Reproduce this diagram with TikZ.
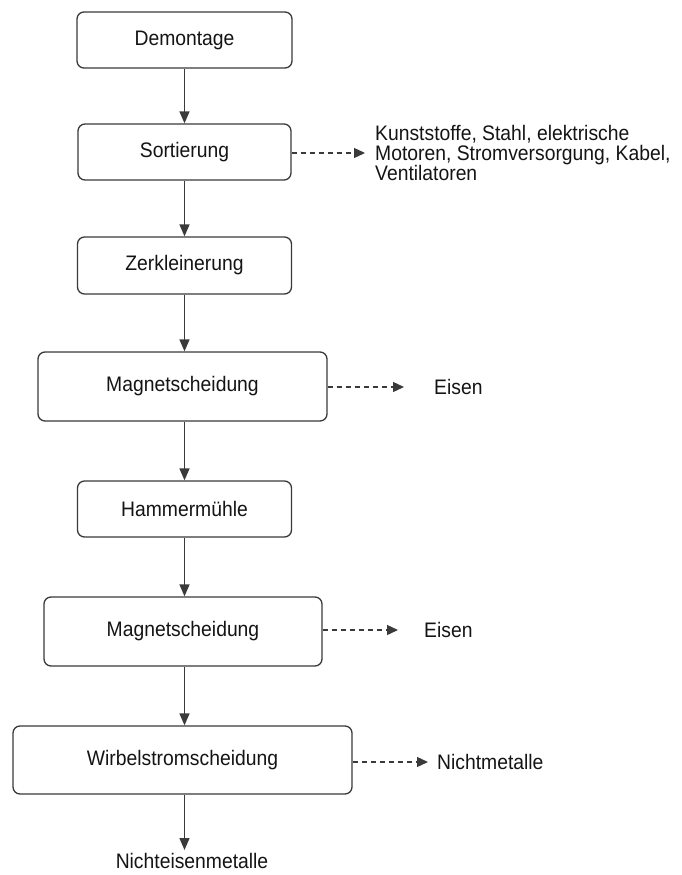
\documentclass[tikz,border=0pt]{standalone}
\usepackage{fontspec}
\setmainfont[FakeStretch=0.92]{Liberation Sans}
\usetikzlibrary{arrows.meta}
\definecolor{linec}{HTML}{3A3A3A}
\definecolor{txtc}{HTML}{141414}
\tikzset{
  procbox/.style={draw=linec, line width=1.3pt, rounded corners=7pt, fill=white,
    minimum height=#1, inner sep=0pt, text=txtc},
  procbox/.default=56pt,
  flow/.style={draw=linec, line width=1.4pt, -{Triangle[length=12pt,width=10pt]}},
  side/.style={draw=linec, line width=1.3pt, dash pattern=on 5pt off 4pt,
    -{Triangle[length=11pt,width=10pt]}},
  lbl/.style={inner sep=0pt, text=txtc, anchor=west}
}
\begin{document}
\begin{tikzpicture}[x=1pt,y=-1pt,font=\fontsize{21}{20}\selectfont]
\useasboundingbox (0,0) rectangle (681,875);
\node[procbox, minimum width=215pt] (dem) at (184.5,40) {Demontage};
\node[procbox, minimum width=213pt] (sor) at (184.5,152) {Sortierung};
\node[procbox=57pt, minimum width=214pt] (zer) at (184.5,265.5) {Zerkleinerung};
\node[procbox=69pt, minimum width=289pt] (mag1) at (182.5,386.5) {Magnetscheidung};
\node[procbox, minimum width=214pt] (ham) at (184.5,509) {Hammermühle};
\node[procbox=69pt, minimum width=278pt] (mag2) at (183,631.5) {Magnetscheidung};
\node[procbox=68pt, minimum width=339pt] (wir) at (182.5,760) {Wirbelstromscheidung};
\node[inner sep=0pt, text=txtc] (ne) at (192,861) {Nichteisenmetalle};
\coordinate (neTop) at (184.5,850);

\node[lbl, align=left] (sorOut) at (375,153) {Kunststoffe, Stahl, elektrische\\Motoren, Stromversorgung, Kabel,\\Ventilatoren};
\node[lbl] (eisen1) at (434,387) {Eisen};
\node[lbl] (eisen2) at (424,630) {Eisen};
\node[lbl] (nicht) at (437,762) {Nichtmetalle};

\coordinate (s1) at (365,153);
\coordinate (s2) at (404,387);
\coordinate (s3) at (398,630);
\coordinate (s4) at (428,762);

\draw[flow] (dem.south) -- (dem.south |- sor.north);
\draw[flow] (sor.south) -- (sor.south |- zer.north);
\draw[flow] (zer.south) -- (zer.south |- mag1.north);
\draw[flow] (zer.south |- mag1.south) -- (zer.south |- ham.north);
\draw[flow] (ham.south) -- (ham.south |- mag2.north);
\draw[flow] (ham.south |- mag2.south) -- (ham.south |- wir.north);
\draw[flow] (neTop |- wir.south) -- (neTop);

\draw[side] (sor.east |- s1) -- (s1);
\draw[side] (mag1.east |- s2) -- (s2);
\draw[side] (mag2.east |- s3) -- (s3);
\draw[side] (wir.east |- s4) -- (s4);
\end{tikzpicture}
\end{document}
